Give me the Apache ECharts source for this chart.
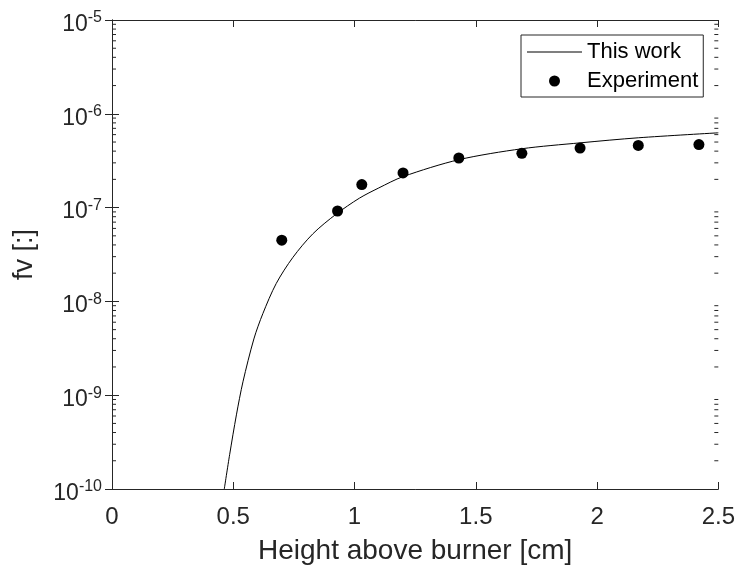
<!DOCTYPE html>
<html>
<head>
<meta charset="utf-8">
<script src="https://cdn.jsdelivr.net/npm/echarts@6/dist/echarts.min.js"></script>
<style>html,body{margin:0;padding:0;background:#fff}#c{width:738px;height:570px}</style>
</head>
<body>
<div id="c"></div>
<script>
// Experimental points
const expX = [0.70, 0.93, 1.03, 1.20, 1.43, 1.69, 1.93, 2.17, 2.42];
const expY = [4.5e-8, 9.2e-8, 1.76e-7, 2.34e-7, 3.38e-7, 3.79e-7, 4.31e-7, 4.6e-7, 4.7e-7];
// Model curve ("This work")
const modelX = [0.463, 0.485, 0.513, 0.54, 0.585, 0.622, 0.677, 0.746, 0.828, 0.924, 1.02, 1.10, 1.20, 1.43, 1.69, 1.93, 2.17, 2.5];
const modelY = [1e-10, 2.32e-10, 6.17e-10, 1.39e-9, 3.98e-9, 7.41e-9, 1.55e-8, 2.95e-8, 5.25e-8, 8.51e-8, 1.26e-7, 1.62e-7, 2.14e-7, 3.24e-7, 4.24e-7, 4.90e-7, 5.55e-7, 6.27e-7];
// Axis ranges / ticks
const xTicks = [0, 0.5, 1, 1.5, 2, 2.5];
const yDecades = [-10, -9, -8, -7, -6, -5];
const minorMultipliers = [2, 3, 4, 5, 6, 7, 8, 9];

const FONT = '"Liberation Sans", Arial, sans-serif';
const AX = '#262626';
const xMin = xTicks[0], xMax = xTicks[xTicks.length - 1];
const yMin = Math.pow(10, yDecades[0]), yMax = Math.pow(10, yDecades[yDecades.length - 1]);

const minorVals = [];
for (let i = 0; i < yDecades.length - 1; i++) {
  for (const m of minorMultipliers) minorVals.push([xMin, m * Math.pow(10, yDecades[i])]);
}

const chart = echarts.init(document.getElementById('c'), null, {renderer: 'canvas'});
const yLabelFmt = v => '{n|10}{s|' + Math.round(Math.log10(v)) + '}';

chart.setOption({
  animation: false,
  backgroundColor: '#fff',
  grid: {left: 112, right: 18, top: 20, bottom: 79, containLabel: false},
  xAxis: [{
    type: 'value', min: xMin, max: xMax, interval: 0.5, position: 'bottom',
    name: 'Height above burner [cm]', nameLocation: 'middle', nameGap: 48,
    nameTextStyle: {fontFamily: FONT, fontSize: 28, color: AX},
    axisLine: {show: true, lineStyle: {color: AX, width: 1}},
    axisTick: {show: true, inside: true, length: 7, lineStyle: {color: AX}},
    axisLabel: {fontFamily: FONT, fontSize: 24, color: AX, margin: 16, showMinLabel: true, showMaxLabel: true},
    splitLine: {show: false}
  }, {
    type: 'value', min: xMin, max: xMax, interval: 0.5, position: 'top',
    axisLine: {show: true, lineStyle: {color: AX, width: 1}},
    axisTick: {show: true, inside: true, length: 7, lineStyle: {color: AX}},
    axisLabel: {show: false}, splitLine: {show: false}
  }],
  yAxis: [{
    type: 'log', logBase: 10, min: yMin, max: yMax, position: 'left',
    name: 'fv [:]', nameLocation: 'middle', nameGap: 74, nameRotate: 90,
    nameTextStyle: {fontFamily: FONT, fontSize: 27, color: AX},
    axisLine: {show: true, lineStyle: {color: AX, width: 1}},
    axisTick: {show: true, inside: true, length: 7, lineStyle: {color: AX}},
    axisLabel: {
      formatter: yLabelFmt, margin: 10, color: AX, showMinLabel: true, showMaxLabel: true,
      padding: [6, 0, 0, 0],
      rich: {
        n: {fontFamily: FONT, fontSize: 23, lineHeight: 26, color: AX, verticalAlign: 'bottom'},
        s: {fontFamily: FONT, fontSize: 16, color: AX, verticalAlign: 'top'}
      }
    },
    splitLine: {show: false}
  }, {
    type: 'log', logBase: 10, min: yMin, max: yMax, position: 'right',
    axisLine: {show: true, lineStyle: {color: AX, width: 1}},
    axisTick: {show: true, inside: true, length: 7, lineStyle: {color: AX}},
    axisLabel: {show: false}, splitLine: {show: false}
  }],
  legend: {
    data: [
      {name: 'This work', icon: 'path://M0,0h100v2h-100z'},
      {name: 'Experiment', icon: 'circle'}
    ],
    orient: 'vertical', left: 521, top: 35, symbolKeepAspect: true,
    padding: [6, 5, 5, 6], itemGap: 7, itemWidth: 55, itemHeight: 11,
    backgroundColor: '#fff', borderColor: AX, borderWidth: 1, borderRadius: 0,
    textStyle: {fontFamily: FONT, fontSize: 22, color: '#000'},
    selectedMode: false
  },
  series: [{
    name: 'This work', type: 'line', xAxisIndex: 0, yAxisIndex: 0,
    data: modelX.map((x, i) => [x, modelY[i]]),
    symbol: 'none', showSymbol: false, smooth: 0.3,
    lineStyle: {color: '#000', width: 1}, itemStyle: {color: '#000'}, clip: true, z: 3
  }, {
    name: 'Experiment', type: 'scatter', xAxisIndex: 0, yAxisIndex: 0,
    data: expX.map((x, i) => [x, expY[i]]),
    symbol: 'circle', symbolSize: 11, itemStyle: {color: '#000', opacity: 1}, z: 4
  }, {
    name: 'minorTicks', type: 'custom', xAxisIndex: 0, yAxisIndex: 0, silent: true, clip: false,
    data: minorVals,
    renderItem: function (params, api) {
      const v = api.value(1);
      const pL = api.coord([xMin, v]);
      const pR = api.coord([xMax, v]);
      return {type: 'group', children: [
        {type: 'line', shape: {x1: pL[0], y1: pL[1], x2: pL[0] + 4, y2: pL[1]}, style: {stroke: AX, lineWidth: 1}},
        {type: 'line', shape: {x1: pR[0], y1: pR[1], x2: pR[0] - 4, y2: pR[1]}, style: {stroke: AX, lineWidth: 1}}
      ]};
    },
    z: 2
  }]
});
</script>
</body>
</html>
